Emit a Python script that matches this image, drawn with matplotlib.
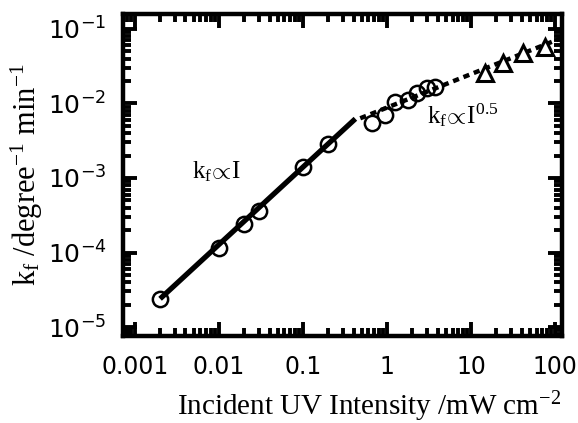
import numpy as np
import matplotlib
matplotlib.use("Agg")
import matplotlib.pyplot as plt
from matplotlib.ticker import LogLocator, FixedLocator, FixedFormatter, NullFormatter

plt.rcParams['mathtext.fontset'] = 'custom'
plt.rcParams['mathtext.rm'] = 'Liberation Serif'
plt.rcParams['mathtext.it'] = 'Liberation Serif:italic'
plt.rcParams['mathtext.sf'] = 'DejaVu Sans'

# data
I_low = [0.002, 0.01, 0.02, 0.03, 0.1, 0.2]
k_low = [2.4e-5, 1.15e-4, 2.4e-4, 3.6e-4, 1.4e-3, 2.9e-3]
I_mid = [0.66, 0.95, 1.25, 1.75, 2.3, 3.0, 3.7]
k_mid = [5.5e-3, 6.9e-3, 1.03e-2, 1.1e-2, 1.4e-2, 1.6e-2, 1.65e-2]
I_high = [14.7, 24, 41.6, 76]
k_high = [0.0254, 0.0348, 0.0474, 0.057]

# fitted power laws: k = A * I^n
fit1_A, fit1_n, fit1_range = 0.01535, 1.04, (0.002, 0.42)
fit2_A, fit2_n, fit2_range = 0.0088, 0.45, (0.48, 120)

x_ticks = [0.001, 0.01, 0.1, 1, 10, 100]
x_ticklabels = ['0.001', '0.01', '0.1', '1', '10', '100']
y_ticks = [1e-5, 1e-4, 1e-3, 1e-2, 1e-1]
y_ticklabels = [r'$\mathsf{10^{-5}}$', r'$\mathsf{10^{-4}}$', r'$\mathsf{10^{-3}}$',
                r'$\mathsf{10^{-2}}$', r'$\mathsf{10^{-1}}$']

fig = plt.figure(figsize=(5.78, 4.23), dpi=100)
ax = fig.add_axes([0.2128, 0.2057, 0.7595, 0.7612])
ax.set_xscale('log')
ax.set_yscale('log')
ax.set_xlim(10 ** -3.14, 10 ** 2.08)
ax.set_ylim(10 ** -5.12, 10 ** -0.8)

xf = np.logspace(np.log10(fit1_range[0]), np.log10(fit1_range[1]), 50)
ax.plot(xf, fit1_A * xf ** fit1_n, color='black', lw=3.8, solid_capstyle='butt', zorder=2)
xf2 = np.logspace(np.log10(fit2_range[0]), np.log10(fit2_range[1]), 50)
ax.plot(xf2, fit2_A * xf2 ** fit2_n, color='black', lw=3.2, dashes=(1.4, 1.1),
        dash_capstyle='butt', zorder=2)

ax.plot(I_low, k_low, 'o', ms=11, mfc='none', mec='black', mew=1.8, zorder=3)
ax.plot(I_mid, k_mid, 'o', ms=11, mfc='none', mec='black', mew=1.8, zorder=3)
ax.plot(I_high, k_high, '^', ms=12, mfc='white', mec='black', mew=2.2, zorder=3)

ax.text(0.0048, 1.0e-3, r'$\mathrm{k_f\!\propto\! I}$', fontsize=18, ha='left', va='baseline')
ax.text(3.0, 5.4e-3, r'$\mathrm{k_f\!\propto\! I^{0.5}}$', fontsize=18, ha='left', va='baseline')

ax.xaxis.set_major_locator(FixedLocator(x_ticks))
ax.xaxis.set_major_formatter(FixedFormatter(x_ticklabels))
ax.yaxis.set_major_locator(FixedLocator(y_ticks))
ax.yaxis.set_major_formatter(FixedFormatter(y_ticklabels))
ax.xaxis.set_minor_locator(LogLocator(base=10, subs=np.arange(2, 10), numticks=20))
ax.yaxis.set_minor_locator(LogLocator(base=10, subs=np.arange(2, 10), numticks=20))
ax.xaxis.set_minor_formatter(NullFormatter())
ax.yaxis.set_minor_formatter(NullFormatter())

ax.tick_params(which='both', direction='in', top=True, right=True, width=2.8)
ax.tick_params(which='major', length=10)
ax.tick_params(axis='x', which='major', pad=14, labelsize=17)
ax.tick_params(axis='y', which='major', pad=12, labelsize=18)
ax.tick_params(which='minor', length=5.5)
for s in ax.spines.values():
    s.set_linewidth(3.2)

ax.set_xlabel(r'$\mathrm{Incident\ UV\ Intensity\ /mW\ cm^{-2}}$', fontsize=21)
ax.xaxis.set_label_coords(0.56, -0.165)
ax.set_ylabel(r'$\mathrm{k_f\ /degree^{-1}\ min^{-1}}$', fontsize=22, labelpad=2)

fig.savefig('out.png', dpi=100)
